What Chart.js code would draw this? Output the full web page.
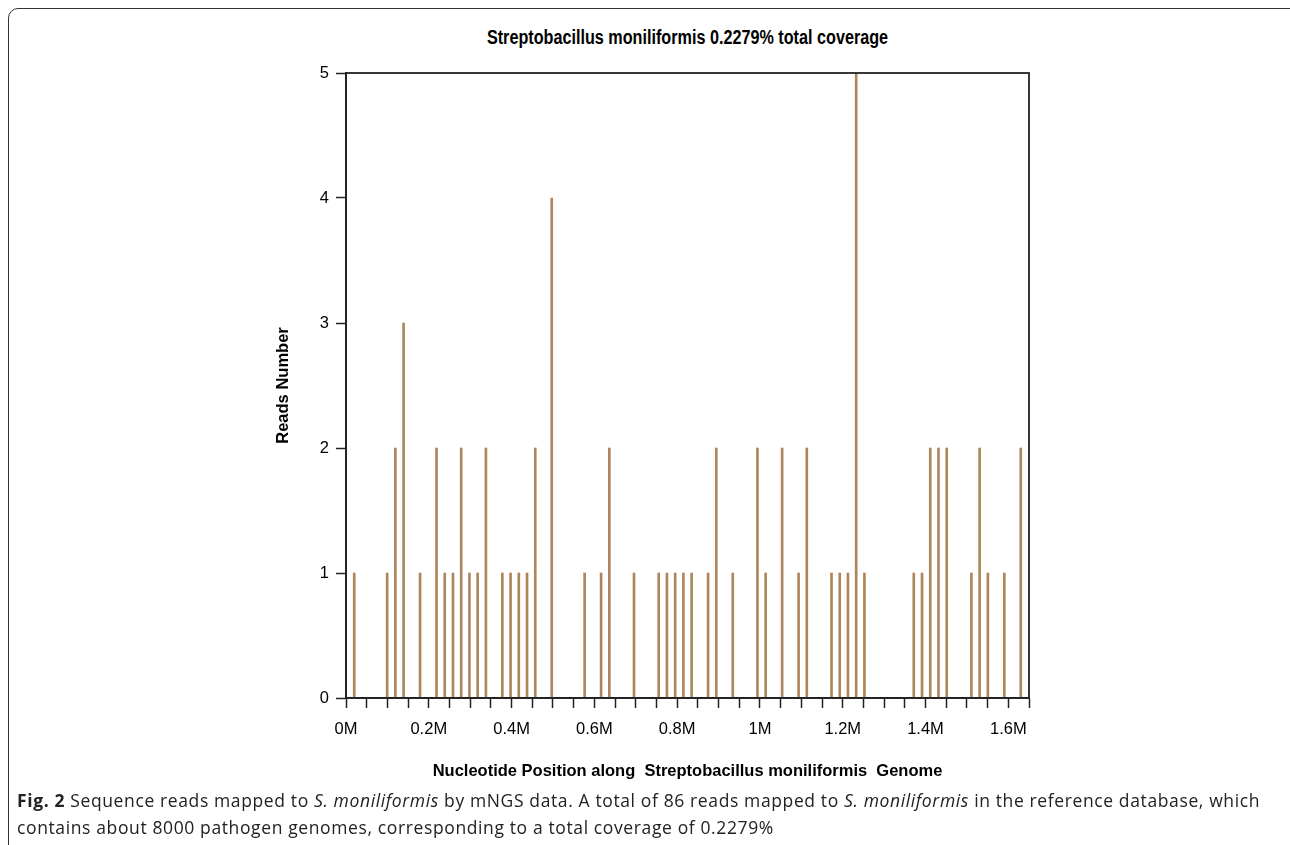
<!DOCTYPE html>
<html>
<head>
<meta charset="utf-8">
<script src="https://cdn.jsdelivr.net/npm/chart.js@4/dist/chart.umd.min.js"></script>
<style>
  html, body { margin: 0; padding: 0; background: #fff; }
  body { width: 1290px; height: 845px; position: relative; overflow: hidden; }
  .frame {
    position: absolute; left: 8px; top: 8px; width: 1300px; height: 860px;
    border: 1px solid #333; border-radius: 10px;
  }
  .title {
    position: absolute; left: 346px; width: 683px; top: 26px; text-align: center;
    font: bold 19.5px "Liberation Sans", Arial, sans-serif; color: #000;
    transform: scaleX(0.83); transform-origin: 50% 50%;
  }
  #wrap { position: absolute; left: 0; top: 0; width: 1290px; height: 790px; }
  .caption {
    position: absolute; left: 17px; top: 787px; width: 1270px; white-space: nowrap;
    font: 17.5px "Open Sans", sans-serif; letter-spacing: 0.62px; line-height: 27px; color: #222;
  }
</style>
</head>
<body>
<div class="frame"></div>
<div class="title">Streptobacillus moniliformis 0.2279% total coverage</div>
<div id="wrap"><canvas id="coverageChart"></canvas></div>
<div class="caption"><b>Fig. 2</b> Sequence reads mapped to <i>S. moniliformis</i> by mNGS data. A total of 86 reads mapped to <i>S. moniliformis</i> in the reference database, which<br>contains about 8000 pathogen genomes, corresponding to a total coverage of 0.2279%</div>
<script>
// Reads per 20 kb window along the genome
const positions = [
  20000, 100000, 120000, 140000, 180000, 220000, 240000, 260000, 280000, 300000,
  320000, 340000, 380000, 400000, 420000, 440000, 460000, 500000, 580000, 620000,
  640000, 700000, 760000, 780000, 800000, 820000, 840000, 880000, 900000, 940000,
  1000000, 1020000, 1060000, 1100000, 1120000, 1180000, 1200000, 1220000, 1240000, 1260000,
  1380000, 1400000, 1420000, 1440000, 1460000, 1520000, 1540000, 1560000, 1600000, 1640000
];
const reads = [
  1, 1, 2, 3, 1, 2, 1, 1, 2, 1,
  1, 2, 1, 1, 1, 1, 2, 4, 1, 1,
  2, 1, 1, 1, 1, 1, 1, 1, 2, 1,
  2, 1, 2, 1, 2, 1, 1, 1, 5, 1,
  1, 1, 2, 2, 2, 1, 2, 1, 1, 2
];
const genomeLength = 1660000;
const yTicks = [0, 1, 2, 3, 4, 5];

const barColor = '#ad875b';
const axisFont = { family: '"Liberation Sans", Arial, sans-serif', size: 16.5 };
const titleFont = { family: '"Liberation Sans", Arial, sans-serif', size: 16.5, weight: 'bold' };

// draw the closed frame round the plot area
const boxPlugin = {
  id: 'plotBox',
  afterDraw(chart) {
    const { ctx, chartArea: a } = chart;
    ctx.save();
    ctx.strokeStyle = '#222';
    ctx.lineWidth = 1.8;
    ctx.strokeRect(a.left, a.top, a.right - a.left, a.bottom - a.top);
    ctx.restore();
  }
};

new Chart(document.getElementById('coverageChart'), {
  type: 'bar',
  data: {
    datasets: [{
      label: 'Reads',
      data: positions.map((x, i) => ({ x, y: reads[i] })),
      backgroundColor: barColor,
      borderWidth: 0,
      barThickness: 2
    }]
  },
  options: {
    responsive: true,
    maintainAspectRatio: false,
    animation: false,
    layout: { padding: { left: 274, right: 261, top: 73, bottom: 0 } },
    plugins: { legend: { display: false }, tooltip: { enabled: false } },
    scales: {
      x: {
        type: 'linear',
        min: 0,
        max: genomeLength,
        offset: false,
        grid: { offset: false, drawOnChartArea: false, tickLength: 10, tickColor: '#222', tickWidth: 1.5 },
        border: { color: '#222', width: 1.8 },
        ticks: {
          stepSize: 50000,
          includeBounds: false,
          autoSkip: false,
          maxRotation: 0,
          padding: 12,
          color: '#000',
          font: axisFont,
          // label every fourth tick (0.2M apart)
          callback: (v, i) => (i % 4 === 0 ? (Math.round(Number(v) / 100000) / 10) + 'M' : '')
        },
        title: {
          display: true,
          text: 'Nucleotide Position along  Streptobacillus moniliformis  Genome',
          color: '#000',
          font: titleFont,
          padding: { top: 0, bottom: 9 }
        },
        afterFit(scale) { scale.height = 92; }
      },
      y: {
        min: 0,
        max: 5,
        grid: { drawOnChartArea: false, tickLength: 10, tickColor: '#222', tickWidth: 1.5 },
        border: { color: '#222', width: 1.8 },
        afterBuildTicks(scale) { scale.ticks = yTicks.map(v => ({ value: v })); },
        ticks: { padding: 7, color: '#000', font: axisFont },
        title: {
          display: true,
          text: 'Reads Number',
          color: '#000',
          font: titleFont,
          padding: { top: 0, bottom: 0 }
        },
        afterFit(scale) { scale.width = 72; }
      }
    }
  },
  plugins: [boxPlugin]
});
</script>
</body>
</html>
